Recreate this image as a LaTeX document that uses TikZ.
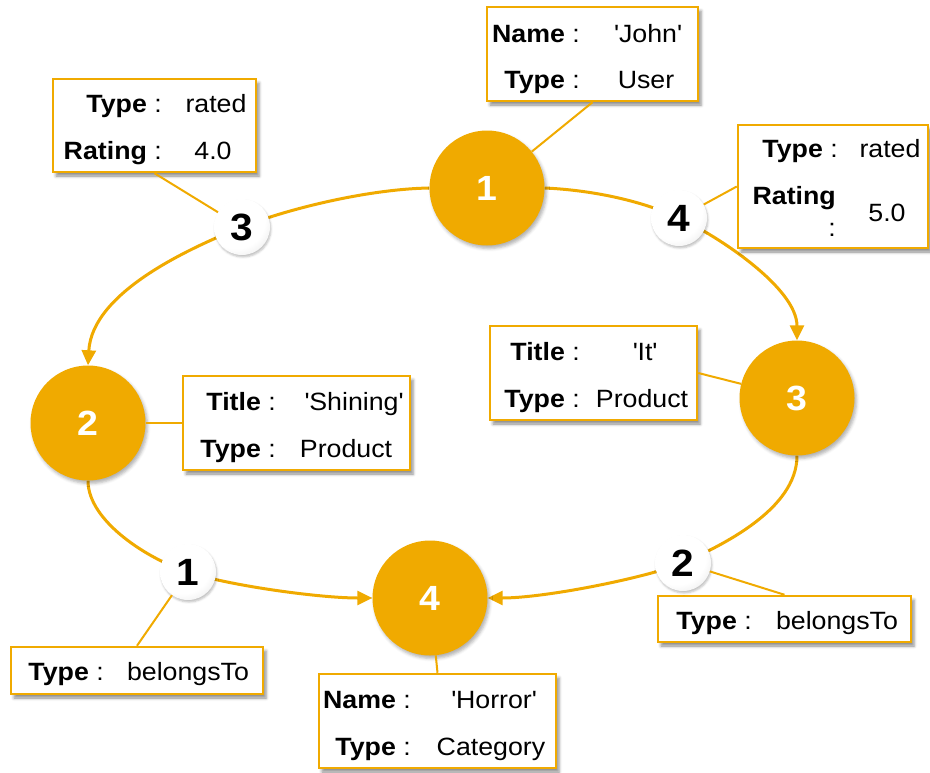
\documentclass[tikz,border=0pt]{standalone}
\usepackage{fontspec}
\setmainfont{Liberation Sans}[FakeStretch=1.07]
\usetikzlibrary{arrows.meta,shadows.blur}
\definecolor{accent}{HTML}{F0AA00}
% glossy white marker for the edge numbers
\pgfdeclareradialshading{glossball}{\pgfpoint{-9bp}{11bp}}{color(0bp)=(white); color(26bp)=(white); color(40bp)=(black!10); color(50bp)=(black!26); color(58bp)=(black!38); color(66bp)=(black!45)}
\pgfdeclarelayer{back}
\pgfsetlayers{back,main}
\newcommand{\sq}[1]{\textquotesingle#1\textquotesingle}

\begin{document}
\begin{tikzpicture}[x=1pt,y=-1pt,
  txt/.style={inner sep=0pt, font=\fontsize{25}{30}\selectfont},
  key/.style={txt, anchor=base east},
  val/.style={txt, anchor=base},
  box/.style={draw=accent, line width=2.5pt, fill=white, inner sep=0pt,
    blur shadow={shadow xshift=3pt, shadow yshift=-4pt, shadow blur radius=3pt, shadow opacity=45}},
  vertex/.style={circle, fill=accent, minimum size=115pt, inner sep=0pt, text=white,
    font=\fontsize{35}{40}\selectfont\bfseries,
    blur shadow={shadow xshift=2pt, shadow yshift=-3pt, shadow blur radius=3pt, shadow opacity=30}},
  ball/.style={circle, shade, shading=glossball, minimum size=56pt, inner sep=0pt,
    font=\fontsize{38}{44}\selectfont\bfseries,
    blur shadow={shadow xshift=1pt, shadow yshift=-2pt, shadow blur radius=2pt, shadow opacity=25}},
  edge/.style={draw=accent, line width=3pt, -{Triangle[length=15pt,width=14pt]}},
  link/.style={draw=accent, line width=2pt},
]
\useasboundingbox (0,0) rectangle (930,772);

% property boxes
\node[box, minimum width=211pt, minimum height=94pt] (bU) at (592.5,54) {};
\node[box, minimum width=203pt, minimum height=93pt] (bA) at (154.5,125.5) {};
\node[box, minimum width=190pt, minimum height=123pt] (bB) at (833,186.5) {};
\node[box, minimum width=207pt, minimum height=94pt] (bC) at (593.5,373) {};
\node[box, minimum width=227pt, minimum height=94pt] (bD) at (296.5,423) {};
\node[box, minimum width=252pt, minimum height=47pt] (bE) at (137,670.5) {};
\node[box, minimum width=253pt, minimum height=46pt] (bF) at (784.5,619) {};
\node[box, minimum width=237pt, minimum height=94pt] (bG) at (437.5,721) {};

% box texts
\node[key] (uk1) at (580,42) {\textbf{Name} :};
\node[val] (uv1) at (648,42) {\sq{John}};
\node[key] (uk2) at (580,88) {\textbf{Type} :};
\node[val] (uv2) at (646,88) {User};

\node[key] (ak1) at (162,112) {\textbf{Type} :};
\node[val] (av1) at (216,112) {rated};
\node[key] (ak2) at (162,159) {\textbf{Rating} :};
\node[val] (av2) at (213,159) {4.0};

\node[key] (bk1) at (838,157) {\textbf{Type} :};
\node[val] (bv1) at (890,157) {rated};
\node[key] (bk2) at (836,204) {\textbf{Rating}};
\node[key] (bk3) at (836,236) {:};
\node[val] (bv2) at (887,221) {5.0};

\node[key] (ck1) at (580,360) {\textbf{Title} :};
\node[val] (cv1) at (645,360) {\sq{It}};
\node[key] (ck2) at (580,407) {\textbf{Type} :};
\node[val] (cv2) at (642,407) {Product};

\node[key] (dk1) at (276,410) {\textbf{Title} :};
\node[val] (dv1) at (354,410) {\sq{Shining}};
\node[key] (dk2) at (276,457) {\textbf{Type} :};
\node[val] (dv2) at (346,457) {Product};

\node[key] (ek1) at (104,680) {\textbf{Type} :};
\node[val] (ev1) at (188,680) {belongsTo};

\node[key] (fk1) at (752,629) {\textbf{Type} :};
\node[val] (fv1) at (837,629) {belongsTo};

\node[key] (gk1) at (411,708) {\textbf{Name} :};
\node[val] (gv1) at (494,708) {\sq{Horror}};
\node[key] (gk2) at (411,755) {\textbf{Type} :};
\node[val] (gv2) at (491,755) {Category};

% graph vertices
\node[vertex] (n1) at (487,188) {1};
\node[vertex] (n2) at (88,423) {2};
\node[vertex] (n3) at (797,398) {3};
\node[vertex] (n4) at (430,598) {4};

% edge markers
\node[ball] (b3) at (242,227) {3};
\node[ball] (b4) at (679,218) {4};
\node[ball] (b1) at (188,572) {1};
\node[ball] (b2) at (683,563) {2};

% leader lines to the boxes
\draw[link] (n1) -- (bU.south);
\draw[link] (b3) -- (bA.south);
\draw[link] (b4) -- (bB.west);
\draw[link] (n3) -- (bC.east);
\draw[link] (n2) -- (bD.west);
\draw[link] (b1) -- (bE.north);
\draw[link] (b2) -- (bF.north);
\draw[link] (n4) -- (bG.north);

% directed edges, passing behind their markers
\begin{pgfonlayer}{back}
\draw[edge] (n1.west) .. controls (370,189) and (290,208) .. (b3.center)
  .. controls (190,248) and (92,292) .. (n2.north);
\draw[edge] (n1.east) .. controls (590,190) and (640,200) .. (b4.center)
  .. controls (718,236) and (797,288) .. (n3.north);
\draw[edge] (n2.south) .. controls (88,522) and (150,560) .. (b1.center)
  .. controls (226,585) and (318,598) .. (n4.west);
\draw[edge] (n3.south) .. controls (797,510) and (720,546) .. (b2.center)
  .. controls (645,578) and (545,598) .. (n4.east);
\end{pgfonlayer}
\end{tikzpicture}
\end{document}
